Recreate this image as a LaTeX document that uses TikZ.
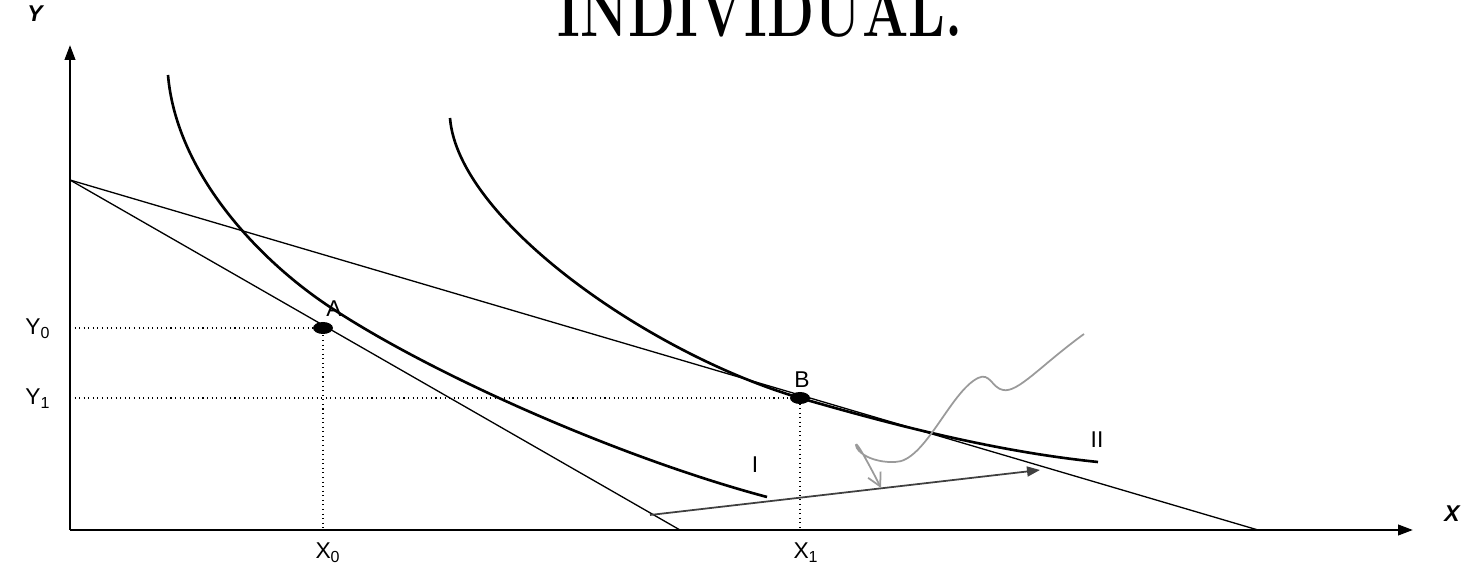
\documentclass[tikz,border=0pt]{standalone}
\usepackage{fontspec}
\setsansfont{Liberation Sans}
\definecolor{shiftgray}{HTML}{404040}
\definecolor{notegray}{HTML}{9A9A9A}
\usetikzlibrary{arrows.meta,shapes.geometric}
\tikzset{
    axisline/.style={
        -{Triangle[length=3mm,width=2.1mm]},
        line width=1.4pt
    },
    budgetline/.style={
        line width=0.75pt
    },
    indifference/.style={
        line width=1.5pt
    },
    guideline/.style={
        dotted,
        line width=0.6pt
    },
    bundledot/.style={
        ellipse,
        fill=black,
        minimum width=0.4cm,
        minimum height=0.24cm,
        inner sep=0pt
    },
    axislabel/.style={
        font=\sffamily\bfseries\itshape\fontsize{13}{15}\selectfont
    },
    ticklabel/.style={
        font=\sffamily\fontsize{13}{15}\selectfont
    },
    shiftarrow/.style={
        -{Triangle[length=2.6mm,width=2mm]},
        draw=shiftgray,
        line width=1pt
    },
    notearrow/.style={
        -{Straight Barb[length=2.6mm,width=2.8mm]},
        draw=notegray,
        line width=1pt
    }
}
\begin{document}
\begin{tikzpicture}[x=0.02cm,y=-0.02cm]
    \clip (0,0) rectangle (1475,570);

    % title, cut at the top
    \node[anchor=base,inner sep=0pt,xscale=0.74,
          font=\bfseries\fontsize{42}{46}\selectfont] (title) at (760,37)
        {INDIVIDUAL.};

    % axes
    \coordinate (origin) at (70,530);
    \coordinate (ytip) at (70,45);
    \coordinate (xtip) at (1413,530);
    \draw[axisline] (origin) -- (ytip);
    \draw[axisline] (origin) -- (xtip);
    \node[axislabel] (ylabel) at (35,14) {Y};
    \node[axislabel] (xlabel) at (1452,514) {X};

    % budget lines
    \coordinate (yint) at (70,180);
    \coordinate (xintA) at (680,530);
    \coordinate (xintB) at (1258,530);
    \draw[budgetline] (yint) -- (xintA);
    \draw[budgetline] (yint) -- (xintB);

    % indifference curves
    \draw[indifference] (168,75) .. controls (176,170) and (254,255) .. (324,303)
        .. controls (424,371) and (617,457) .. (767,497);
    \draw[indifference] (450,118) .. controls (458,220) and (650,354) .. (800,398)
        .. controls (900,427) and (1000,452) .. (1098,462);
    \node[ticklabel] (curveI) at (755,465) {I};
    \node[ticklabel] (curveII) at (1097,440) {II};

    % bundles
    \node[bundledot] (A) at (323,328) {};
    \node[bundledot] (B) at (800,398) {};
    \node[ticklabel] (labelA) at (334,309) {A};
    \node[ticklabel] (labelB) at (802,380) {B};

    \coordinate (y0) at (70,328);
    \coordinate (y1) at (70,398);
    \coordinate (x0) at (323,530);
    \coordinate (x1) at (800,530);
    \draw[guideline] (y0) -- (A.center) -- (x0);
    \draw[guideline] (y1) -- (B.center) -- (x1);
    \node[ticklabel] (labelY0) at (38,329) {Y\textsubscript{0}};
    \node[ticklabel] (labelY1) at (38,399) {Y\textsubscript{1}};
    \node[ticklabel] (labelX0) at (328,553) {X\textsubscript{0}};
    \node[ticklabel] (labelX1) at (806,553) {X\textsubscript{1}};

    % shift arrow and note
    \coordinate (shiftfrom) at (650,515);
    \coordinate (shiftto) at (1040,470);
    \draw[shiftarrow] (shiftfrom) -- (shiftto);
    \coordinate (notefrom) at (1084,334);
    \coordinate (noteto) at (881,488);
    \draw[notearrow] (notefrom) .. controls (1040,366) and (1018,393) .. (1003,390)
        .. controls (992,388) and (990,372) .. (978,378)
        .. controls (950,392) and (925,462) .. (895,462)
        .. controls (872,463) and (856,452) .. (856,445)
        .. controls (856,440) and (872,470) .. (noteto);
\end{tikzpicture}
\end{document}
